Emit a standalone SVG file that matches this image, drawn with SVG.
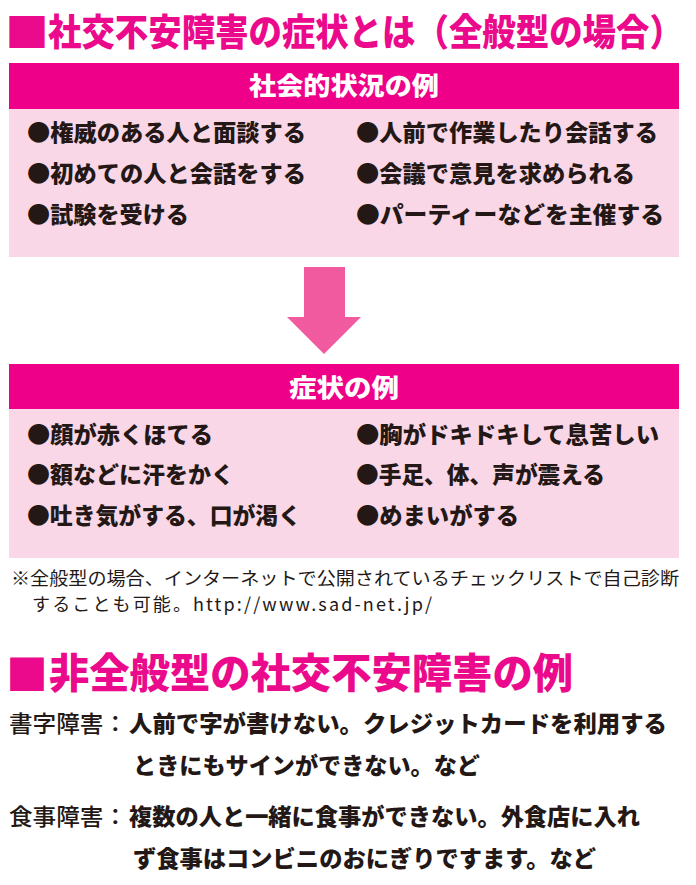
<svg xmlns="http://www.w3.org/2000/svg" width="696" height="885" viewBox="0 0 696 885">
<style>
text{font-family:"Noto Sans CJK JP","Noto Sans CJK SC",sans-serif;fill:#231815}
.t{font-weight:900;fill:#eb0a8b}
.h{font-weight:900;font-size:25px;fill:#fff;text-anchor:middle}
.i{font-weight:900;font-size:23px}
.n{font-weight:400;font-size:18px}
.l{font-weight:500;font-size:23px}
.b{font-weight:900;font-size:23px}
.hd{fill:#ee0088}
.bd{fill:#fad7e6}
</style>
<rect width="696" height="885" fill="#fff"/>
<g id="title1">
<text class="t" font-size="40" transform="translate(5 47) scale(1.1 1)">■</text>
<text class="t" font-size="37" transform="translate(48 46) scale(.903 1)">社交不安障害の症状とは（全般型の場合）</text>
</g>
<g id="box-situations">
<rect class="bd" x="9" y="63" width="670" height="194"/>
<rect class="hd" x="9" y="63" width="670" height="46"/>
<text class="h" x="344" y="95" textLength="190" lengthAdjust="spacingAndGlyphs">社会的状況の例</text>
<text class="i" x="27" y="141" textLength="279" lengthAdjust="spacingAndGlyphs">●権威のある人と面談する</text>
<text class="i" x="27" y="182" textLength="279" lengthAdjust="spacingAndGlyphs">●初めての人と会話をする</text>
<text class="i" x="27" y="223" textLength="162" lengthAdjust="spacingAndGlyphs">●試験を受ける</text>
<text class="i" x="356" y="141" textLength="302" lengthAdjust="spacingAndGlyphs">●人前で作業したり会話する</text>
<text class="i" x="356" y="182" textLength="279" lengthAdjust="spacingAndGlyphs">●会議で意見を求められる</text>
<text class="i" x="356" y="223" textLength="308" lengthAdjust="spacingAndGlyphs">●パーティーなどを主催する</text>
</g>
<g id="connectors"><path d="M304 267H345V317H361L324 354L287 317H304Z" fill="#f15a9f"/></g>
<g id="box-symptoms">
<rect class="bd" x="9" y="364" width="670" height="194"/>
<rect class="hd" x="9" y="364" width="670" height="45"/>
<text class="h" x="344" y="397" textLength="110" lengthAdjust="spacingAndGlyphs">症状の例</text>
<text class="i" x="27" y="443" textLength="186" lengthAdjust="spacingAndGlyphs">●顔が赤くほてる</text>
<text class="i" x="27" y="483" textLength="207" lengthAdjust="spacingAndGlyphs">●額などに汗をかく</text>
<text class="i" x="27" y="524" textLength="274" lengthAdjust="spacingAndGlyphs">●吐き気がする、口が渇く</text>
<text class="i" x="356" y="443" textLength="303" lengthAdjust="spacingAndGlyphs">●胸がドキドキして息苦しい</text>
<text class="i" x="356" y="483" textLength="249" lengthAdjust="spacingAndGlyphs">●手足、体、声が震える</text>
<text class="i" x="356" y="524" textLength="163" lengthAdjust="spacingAndGlyphs">●めまいがする</text>
</g>
<g id="note">
<text class="n" x="11" y="585" textLength="668" lengthAdjust="spacingAndGlyphs">※全般型の場合、インターネットで公開されているチェックリストで自己診断</text>
<text class="n" x="32" y="611" textLength="400" lengthAdjust="spacing">することも可能。http://www.sad-net.jp/</text>
</g>
<g id="title2">
<text class="t" x="6" y="690" font-size="42">■</text>
<text class="t" x="49" y="688" font-size="41" textLength="524" lengthAdjust="spacingAndGlyphs">非全般型の社交不安障害の例</text>
</g>
<g id="example-writing">
<text class="l" x="9" y="732" textLength="118" lengthAdjust="spacingAndGlyphs">書字障害：</text>
<text class="b" x="129" y="732" textLength="538" lengthAdjust="spacingAndGlyphs">人前で字が書けない。クレジットカードを利用する</text>
<text class="b" x="133" y="774" textLength="347" lengthAdjust="spacingAndGlyphs">ときにもサインができない。など</text>
</g>
<g id="example-eating">
<text class="l" x="9" y="825" textLength="118" lengthAdjust="spacingAndGlyphs">食事障害：</text>
<text class="b" x="129" y="825" textLength="511" lengthAdjust="spacingAndGlyphs">複数の人と一緒に食事ができない。外食店に入れ</text>
<text class="b" x="133" y="867" textLength="463" lengthAdjust="spacingAndGlyphs">ず食事はコンビニのおにぎりですます。など</text>
</g>
</svg>
